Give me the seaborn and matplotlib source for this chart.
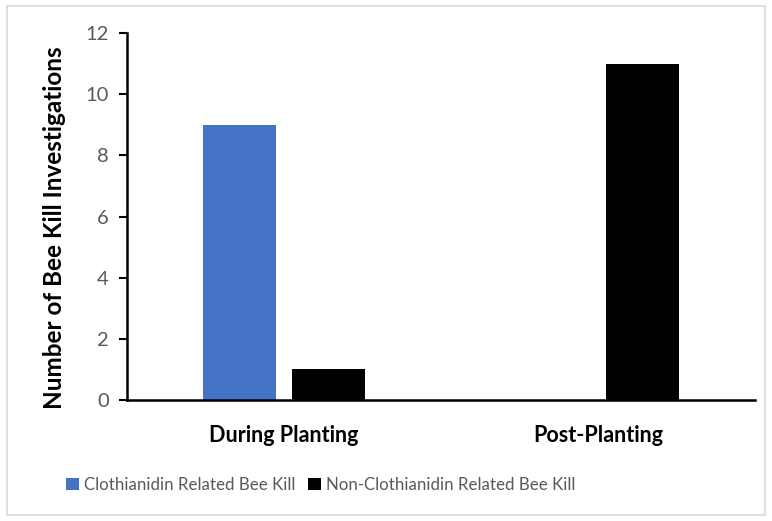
import matplotlib
matplotlib.use("Agg")
import matplotlib.pyplot as plt
from matplotlib.patches import Rectangle
import seaborn as sns
import pandas as pd

# Bee kill investigations by planting period
periods = ["During Planting", "Post-Planting"]
clothianidin = [9, 0]
non_clothianidin = [1, 11]
series_names = ["Clothianidin Related Bee Kill", "Non-Clothianidin Related Bee Kill"]
y_ticks = [0, 2, 4, 6, 8, 10, 12]

df = pd.DataFrame({
    "Period": periods * 2,
    "Count": clothianidin + non_clothianidin,
    "Type": [series_names[0]] * len(periods) + [series_names[1]] * len(periods),
})

sns.set_theme(style="white")
plt.rcParams["font.family"] = ["Lato", "DejaVu Sans"]

fig = plt.figure(figsize=(7.72, 5.21), dpi=100)
ax = fig.add_axes([0.1645, 0.2322, 0.978 - 0.1645, 0.9367 - 0.2322])

palette = {series_names[0]: "#4472C4", series_names[1]: "#000000"}
sns.barplot(data=df, x="Period", y="Count", hue="Type", order=periods,
            hue_order=series_names, palette=palette, width=0.57, gap=0.184,
            saturation=1, edgecolor="none", ax=ax, legend=True)

ax.set_xlim(-0.5, 1.5)
ax.set_ylim(0, 12)
ax.set_yticks(y_ticks)
ax.set_yticklabels([str(t) for t in y_ticks], fontsize=14.5, color="#595959")
ax.tick_params(axis="y", direction="out", length=6, width=1.5, color="black", pad=7, left=True)
ax.tick_params(axis="x", length=0, pad=18)
for lbl in ax.get_xticklabels():
    lbl.set_fontsize(15.5)
    lbl.set_fontweight("bold")
    lbl.set_color("black")

ax.set_xlabel("")
ax.set_ylabel("Number of Bee Kill Investigations", fontsize=17.5, fontweight="bold",
              color="black")
ax.yaxis.set_label_coords(-0.097, 0.47)

for side in ["top", "right"]:
    ax.spines[side].set_visible(False)
for side in ["left", "bottom"]:
    ax.spines[side].set_visible(True)
    ax.spines[side].set_color("black")
    ax.spines[side].set_linewidth(1.8)

handles, labels = ax.get_legend_handles_labels()
ax.get_legend().remove()
leg = fig.legend(handles, labels, loc="center left", bbox_to_anchor=(0.066, 0.069),
                 ncol=2, frameon=False, fontsize=12.2, handlelength=0.75,
                 handleheight=0.75, handletextpad=0.3, columnspacing=0.75)
for t in leg.get_texts():
    t.set_color("#595959")

# thin light frame around the chart area
fig.patches.append(Rectangle((0.009, 0.012), 0.982, 0.976, transform=fig.transFigure,
                             fill=False, edgecolor="#D9D9D9", linewidth=1.2))

fig.savefig("out.png", dpi=100)
